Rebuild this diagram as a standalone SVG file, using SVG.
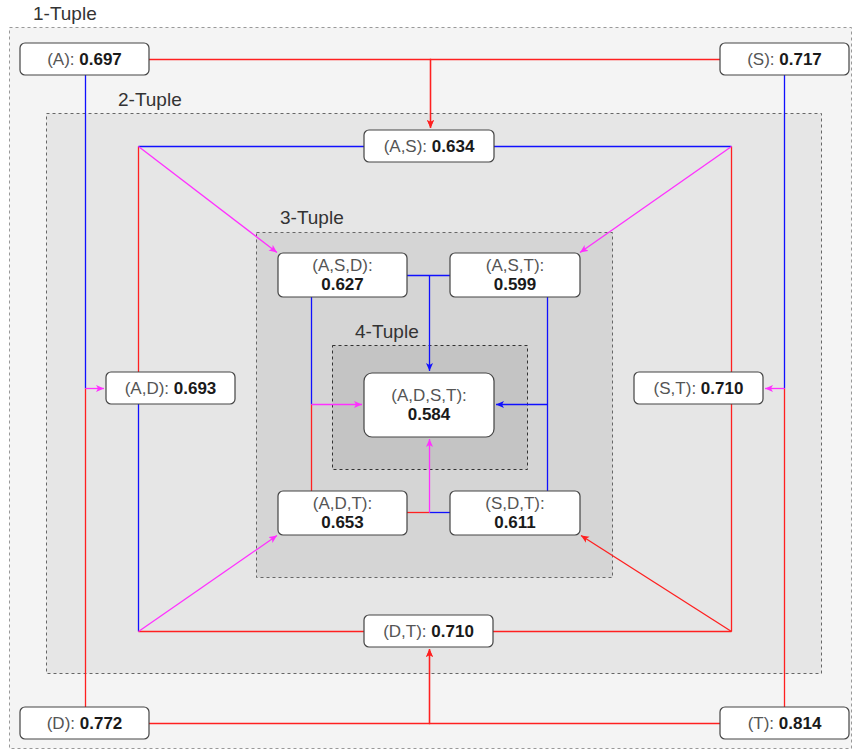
<svg xmlns="http://www.w3.org/2000/svg" width="852" height="750" viewBox="0 0 852 750">
<style>
.grp{stroke-dasharray:3 3;stroke-width:1}
.tl{font-family:"Liberation Sans",Arial,sans-serif;font-size:19px;fill:#333}
.nd rect{fill:#fff;stroke:#444;stroke-width:1.2}
.nd text{font-family:"Liberation Sans",Arial,sans-serif;font-size:17px;text-anchor:middle;fill:#555}
.nd tspan.v{font-weight:bold;fill:#1a1a1a}
path.r{fill:none;stroke:#ff2020;stroke-width:1.3}
path.b{fill:none;stroke:#1010ff;stroke-width:1.3}
path.m{fill:none;stroke:#ff30ff;stroke-width:1.3}
</style>
<defs>
<marker id="ar" markerWidth="10" markerHeight="8" refX="8" refY="4" orient="auto" markerUnits="userSpaceOnUse"><path d="M0,0.5 L8,4 L0,7.5 L2,4 Z" fill="#ff2020"/></marker>
<marker id="ab" markerWidth="10" markerHeight="8" refX="8" refY="4" orient="auto" markerUnits="userSpaceOnUse"><path d="M0,0.5 L8,4 L0,7.5 L2,4 Z" fill="#1010ff"/></marker>
<marker id="am" markerWidth="10" markerHeight="8" refX="8" refY="4" orient="auto" markerUnits="userSpaceOnUse"><path d="M0,0.5 L8,4 L0,7.5 L2,4 Z" fill="#ff30ff"/></marker>
</defs>
<rect width="852" height="750" fill="#fff"/>
<g id="tuple1">
<rect class="grp" x="9.5" y="27.5" width="842" height="721" fill="#f4f4f4" stroke="#999"/>
<text class="tl" x="33" y="20">1-Tuple</text>
</g>
<g id="tuple2">
<rect class="grp" x="46.5" y="113.5" width="775" height="560" fill="#e6e6e6" stroke="#666"/>
<text class="tl" x="118" y="106">2-Tuple</text>
</g>
<g id="tuple3">
<rect class="grp" x="256.5" y="232.5" width="356" height="345" fill="#d5d5d5" stroke="#666"/>
<text class="tl" x="280" y="224">3-Tuple</text>
</g>
<g id="tuple4">
<rect class="grp" x="332.5" y="345.5" width="195" height="124" fill="#c4c4c4" stroke="#333"/>
<text class="tl" x="355" y="338">4-Tuple</text>
</g>
<g id="connectors">
<path class="r" d="M149,59.5 H430.5 V128" marker-end="url(#ar)"/>
<path class="r" d="M720,59.5 H430.5 V128" marker-end="url(#ar)"/>
<path class="r" d="M149,723.5 H429.5 V649" marker-end="url(#ar)"/>
<path class="r" d="M720,723.5 H429.5 V649" marker-end="url(#ar)"/>
<path class="b" d="M85.5,75 V388.5"/>
<path class="r" d="M85.5,707 V388.5"/>
<path class="m" d="M85.5,388.5 H104" marker-end="url(#am)"/>
<path class="b" d="M784.5,75 V388.5"/>
<path class="r" d="M784.5,707 V388.5"/>
<path class="m" d="M784.5,388.5 H765" marker-end="url(#am)"/>
<path class="r" d="M138.5,372 V146.5"/>
<path class="b" d="M364,146.5 H138.5"/>
<path class="m" d="M138.5,146.5 L277,252.5" marker-end="url(#am)"/>
<path class="b" d="M138.5,404 V631.5"/>
<path class="r" d="M364,631.5 H138.5"/>
<path class="m" d="M138.5,631.5 L277,535.5" marker-end="url(#am)"/>
<path class="b" d="M494,146.5 H731.5"/>
<path class="r" d="M731.5,372 V146.5"/>
<path class="m" d="M731.5,146.5 L580,252.5" marker-end="url(#am)"/>
<path class="r" d="M493,631.5 H731.5"/>
<path class="r" d="M731.5,404 V631.5"/>
<path class="r" d="M731.5,631.5 L581,535.5" marker-end="url(#ar)"/>
<path class="b" d="M407,275.5 H450"/>
<path class="b" d="M429.5,275.5 V371" marker-end="url(#ab)"/>
<path class="b" d="M311.5,297 V404.5"/>
<path class="r" d="M311.5,491 V404.5"/>
<path class="m" d="M311.5,404.5 H362" marker-end="url(#am)"/>
<path class="b" d="M547.5,297 V491"/>
<path class="b" d="M547.5,404.5 H496" marker-end="url(#ab)"/>
<path class="r" d="M407,512.5 H429.5"/>
<path class="b" d="M450,512.5 H429.5"/>
<path class="m" d="M429.5,512.5 V439" marker-end="url(#am)"/>
</g>
<g id="n_A" class="nd"><rect x="20" y="43" width="129" height="32" rx="5"/><text x="84.5" y="65">(A): <tspan class="v">0.697</tspan></text></g>
<g id="n_S" class="nd"><rect x="720" y="43" width="129" height="32" rx="5"/><text x="784.5" y="65">(S): <tspan class="v">0.717</tspan></text></g>
<g id="n_D" class="nd"><rect x="20" y="707" width="129" height="32" rx="5"/><text x="84.5" y="729">(D): <tspan class="v">0.772</tspan></text></g>
<g id="n_T" class="nd"><rect x="720" y="707" width="129" height="32" rx="5"/><text x="784.5" y="729">(T): <tspan class="v">0.814</tspan></text></g>
<g id="n_AS" class="nd"><rect x="364" y="130" width="130" height="32" rx="5"/><text x="429" y="152">(A,S): <tspan class="v">0.634</tspan></text></g>
<g id="n_DT" class="nd"><rect x="364" y="615" width="129" height="32" rx="5"/><text x="428.5" y="637">(D,T): <tspan class="v">0.710</tspan></text></g>
<g id="n_AD" class="nd"><rect x="106" y="372" width="129" height="32" rx="5"/><text x="170.5" y="394">(A,D): <tspan class="v">0.693</tspan></text></g>
<g id="n_ST" class="nd"><rect x="634" y="372" width="129" height="32" rx="5"/><text x="698.5" y="394">(S,T): <tspan class="v">0.710</tspan></text></g>
<g id="n_ASD" class="nd"><rect x="278" y="253" width="129" height="44" rx="5"/><text x="342.5" y="270.5">(A,S,D):</text><text x="342.5" y="289.5"><tspan class="v">0.627</tspan></text></g>
<g id="n_AST" class="nd"><rect x="450" y="253" width="130" height="44" rx="5"/><text x="515" y="270.5">(A,S,T):</text><text x="515" y="289.5"><tspan class="v">0.599</tspan></text></g>
<g id="n_ADT" class="nd"><rect x="278" y="491" width="129" height="44" rx="5"/><text x="342.5" y="508.5">(A,D,T):</text><text x="342.5" y="527.5"><tspan class="v">0.653</tspan></text></g>
<g id="n_SDT" class="nd"><rect x="450" y="491" width="130" height="44" rx="5"/><text x="515" y="508.5">(S,D,T):</text><text x="515" y="527.5"><tspan class="v">0.611</tspan></text></g>
<g id="n_ADST" class="nd"><rect x="364" y="373" width="130" height="64" rx="8"/><text x="429" y="400.5">(A,D,S,T):</text><text x="429" y="420"><tspan class="v">0.584</tspan></text></g>
</svg>
